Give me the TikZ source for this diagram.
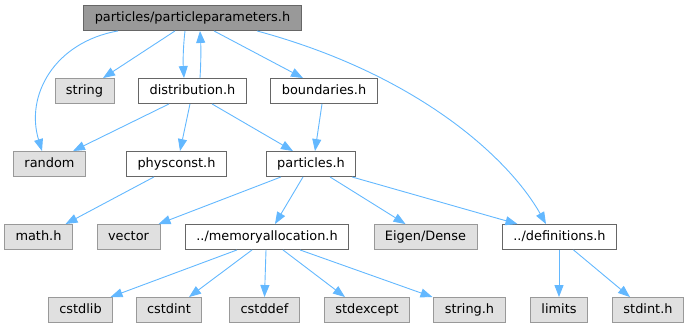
\documentclass[tikz,border=0pt]{standalone}
\usepackage{fontspec}
\setmainfont{DejaVu Sans}
\definecolor{depblue}{HTML}{63B8FF}
\definecolor{rootgray}{HTML}{999999}
\definecolor{sysgray}{HTML}{E0E0E0}
\usepackage{tikz}
\usetikzlibrary{arrows.meta,positioning}

\begin{document}
\begin{tikzpicture}[x=1pt,y=-1pt,
  hdr/.style={draw=black!60, fill=white, line width=0.9pt, inner xsep=11pt,
    minimum height=25pt, text height=9.6pt, text depth=2.6pt,
    font=\fontsize{12.9}{15}\selectfont},
  root/.style={hdr, fill=rootgray},
  sys/.style={hdr, draw=black!40, fill=sysgray},
  dep/.style={depblue, line width=0.9pt, -{Triangle[length=12pt,width=9pt]}}]
  \useasboundingbox (0,0) rectangle (689,329);
  % nodes, one row per level
  \node[root] (params) at (192.5,18) {particles/particleparameters.h};
  \node[sys] (string) at (84.5,91) {string};
  \node[hdr] (distrib) at (192.5,91) {distribution.h};
  \node[hdr] (bounds) at (324,91) {boundaries.h};
  \node[sys] (random) at (49.5,164) {random};
  \node[hdr] (physc) at (176.5,164) {physconst.h};
  \node[hdr] (parts) at (311,164) {particles.h};
  \node[sys] (mathh) at (38.5,237) {math.h};
  \node[sys] (vector) at (128.5,237) {vector};
  \node[hdr] (memalloc) at (267,237) {../memoryallocation.h};
  \node[sys] (eigen) at (425.5,237) {Eigen/Dense};
  \node[hdr] (defs) at (559.5,237) {../definitions.h};
  \node[sys] (cstdlib) at (80.5,310) {cstdlib};
  \node[sys] (cstdint) at (169,310) {cstdint};
  \node[sys] (cstddef) at (264.5,310) {cstddef};
  \node[sys] (stdexc) at (367,310) {stdexcept};
  \node[sys] (stringh) at (469.5,310) {string.h};
  \node[sys] (limits) at (559,310) {limits};
  \node[sys] (stdint) at (648,310) {stdint.h};
  % includes of particleparameters.h
  \draw[dep] ([xshift=-74.5pt]params.south) .. controls (55,42) and (25,95) .. ([xshift=-7.5pt]random.north);
  \draw[dep] ([xshift=-17.5pt]params.south) -- ([xshift=18.5pt]string.north);
  \draw[dep] ([xshift=-7.5pt]params.south) .. controls (183,48) and (183,62) .. ([xshift=-8.5pt]distrib.north);
  \draw[dep] ([xshift=7.5pt]distrib.north) .. controls (201,62) and (201,48) .. ([xshift=7.5pt]params.south);
  \draw[dep] ([xshift=21.5pt]params.south) -- ([xshift=-21pt]bounds.north);
  \draw[dep] ([xshift=64.5pt]params.south) .. controls (420,75) and (510,160) .. ([xshift=-13.5pt]defs.north);
  % distribution.h and boundaries.h
  \draw[dep] ([xshift=-23.5pt]distrib.south) -- ([xshift=23.5pt]random.north);
  \draw[dep] ([xshift=-2.5pt]distrib.south) -- ([xshift=3.5pt]physc.north);
  \draw[dep] ([xshift=19.5pt]distrib.south) -- ([xshift=-18pt]parts.north);
  \draw[dep] ([xshift=-2pt]bounds.south) -- ([xshift=4pt]parts.north);
  % physconst.h and particles.h
  \draw[dep] ([xshift=-22.5pt]physc.south) -- ([xshift=27pt]mathh.north);
  \draw[dep] ([xshift=-30pt]parts.south) -- ([xshift=30pt]vector.north);
  \draw[dep] ([xshift=-8pt]parts.south) -- ([xshift=8pt]memalloc.north);
  \draw[dep] ([xshift=19pt]parts.south) -- ([xshift=-20pt]eigen.north);
  \draw[dep] ([xshift=41pt]parts.south) -- ([xshift=-42pt]defs.north);
  % memoryallocation.h
  \draw[dep] ([xshift=-30pt]memalloc.south) -- ([xshift=30pt]cstdlib.north);
  \draw[dep] ([xshift=-15pt]memalloc.south) -- ([xshift=20pt]cstdint.north);
  \draw[dep] ([xshift=-1pt]memalloc.south) -- (cstddef.north);
  \draw[dep] ([xshift=16pt]memalloc.south) -- ([xshift=-22pt]stdexc.north);
  \draw[dep] ([xshift=33pt]memalloc.south) -- ([xshift=-37pt]stringh.north);
  % definitions.h
  \draw[dep] (defs.south -| limits.north) -- (limits.north);
  \draw[dep] ([xshift=14pt]defs.south) -- ([xshift=-18pt]stdint.north);
\end{tikzpicture}
\end{document}
